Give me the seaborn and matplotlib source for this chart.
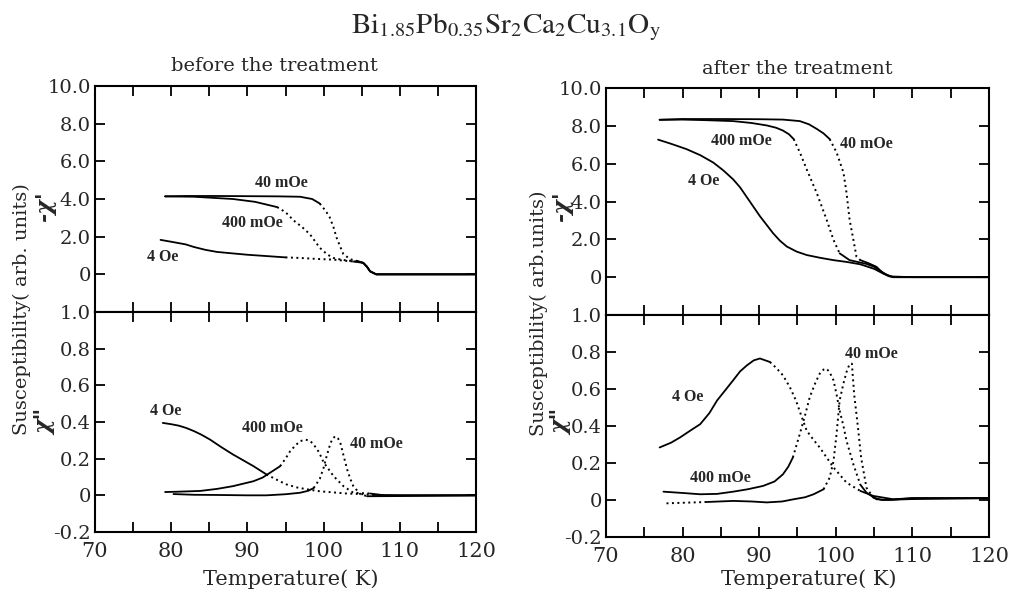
import matplotlib
matplotlib.use("Agg")
import matplotlib.pyplot as plt
from matplotlib.ticker import MultipleLocator
import seaborn as sns
import numpy as np

# ---------------- data ----------------
# before the treatment, -chi'
T40_b1 = [79.2, 82, 86, 90, 94, 96.9, 98.5, 99.5, 100.3, 100.8, 101.3, 101.7, 102.2, 102.6, 103.5, 104.5, 105.2, 105.7, 106.1, 106.9, 110, 115, 120]
Y40_b1 = [4.14, 4.16, 4.16, 4.15, 4.14, 4.12, 4.0, 3.76, 3.35, 3.03, 2.5, 1.95, 1.45, 1.07, 0.8, 0.7, 0.61, 0.4, 0.16, 0.0, 0.0, 0.0, 0.0]
T400_b1 = [79.2, 83, 88.1, 91, 93.9, 95, 96.1, 97.2, 98.2, 99.5, 100.5, 101.3, 102.2, 103.1, 104.5, 105.2, 105.7, 106.1, 106.9, 110, 120]
Y400_b1 = [4.14, 4.12, 4.0, 3.85, 3.57, 3.3, 2.85, 2.5, 2.13, 1.41, 1.05, 0.87, 0.79, 0.73, 0.68, 0.61, 0.4, 0.16, 0.0, 0.0, 0.0]
T4_b1 = [78.6, 80, 81.9, 83, 84.5, 86, 88.1, 90, 92.5, 95, 96.9, 99, 101.3, 103.9, 105.2, 105.7, 106.1, 106.9, 110, 120]
Y4_b1 = [1.83, 1.73, 1.59, 1.45, 1.3, 1.19, 1.11, 1.04, 0.97, 0.9, 0.87, 0.82, 0.78, 0.68, 0.61, 0.4, 0.16, 0.0, 0.0, 0.0]

# before the treatment, chi''
T4_b2 = [78.9, 80, 81, 82, 83, 84, 85.1, 86.5, 88.1, 89.5, 90.8, 92.5, 94, 95.1, 96.5, 97.8, 99.5, 101.3, 103, 104.8, 106.6, 110, 120]
Y4_b2 = [0.395, 0.388, 0.38, 0.367, 0.35, 0.33, 0.304, 0.265, 0.223, 0.19, 0.159, 0.114, 0.082, 0.06, 0.043, 0.033, 0.022, 0.016, 0.01, 0.007, 0.002, 0.0, 0.0]
T400_b2 = [79.2, 81, 83.8, 86, 88.1, 90.8, 92, 93, 94.3, 95, 95.6, 96.3, 96.9, 97.6, 98.2, 98.7, 99.4, 100, 100.7, 101.3, 102.6, 103.9, 105, 106.1, 108, 120]
Y400_b2 = [0.018, 0.02, 0.024, 0.035, 0.05, 0.077, 0.097, 0.124, 0.159, 0.2, 0.24, 0.272, 0.295, 0.304, 0.298, 0.277, 0.235, 0.18, 0.14, 0.105, 0.05, 0.014, 0.012, 0.01, 0.0, 0.0]
T40_b2 = [80.3, 83, 86, 90, 92.5, 95, 96.9, 98, 98.7, 99.5, 100, 100.4, 100.8, 101.1, 101.5, 101.9, 102.2, 102.6, 103.1, 103.5, 103.9, 104.8, 105.7, 110, 120]
Y40_b2 = [0.007, 0.003, 0.002, 0.0, 0.0, 0.006, 0.014, 0.025, 0.04, 0.09, 0.15, 0.214, 0.27, 0.304, 0.322, 0.31, 0.286, 0.22, 0.14, 0.09, 0.05, 0.007, -0.005, -0.004, 0.0]

# after the treatment, -chi'
T40_a1 = [77.0, 80, 85, 90, 93.1, 95.3, 96.5, 97.5, 98.4, 99.2, 100.1, 101.0, 101.4, 101.8, 102.3, 102.7, 103.2, 104.2, 105.3, 106.2, 107.5, 110, 120]
Y40_a1 = [8.32, 8.36, 8.36, 8.35, 8.33, 8.25, 8.08, 7.84, 7.6, 7.3, 6.6, 5.53, 4.46, 3.04, 1.97, 1.08, 0.9, 0.75, 0.55, 0.2, 0.0, 0.0, 0.0]
T400_a1 = [77.0, 80, 83, 86.6, 89, 91.0, 92.2, 93.1, 93.9, 94.5, 95.3, 96.2, 97.5, 98.8, 99.7, 100.5, 101.8, 104.0, 105.0, 105.7, 107.0, 110, 120]
Y400_a1 = [8.32, 8.33, 8.3, 8.25, 8.15, 8.02, 7.9, 7.75, 7.55, 7.3, 6.6, 5.7, 4.46, 3.04, 1.97, 1.26, 0.9, 0.7, 0.55, 0.36, 0.04, 0.0, 0.0]
T4_a1 = [76.8, 78.5, 80.5, 82.3, 84.0, 85.3, 86.6, 87.5, 88.3, 89.2, 90.1, 91.0, 91.8, 92.7, 93.6, 94.9, 96.2, 98, 99.7, 101.5, 103.2, 105.0, 105.9, 106.7, 107.5, 110, 120]
Y4_a1 = [7.27, 7.05, 6.77, 6.45, 6.06, 5.65, 5.17, 4.75, 4.28, 3.75, 3.22, 2.75, 2.33, 1.93, 1.62, 1.35, 1.17, 1.02, 0.9, 0.8, 0.68, 0.44, 0.25, 0.09, 0.0, 0.0, 0.0]

# after the treatment, chi''
T4_a2 = [77.0, 78.5, 79.7, 81, 82.3, 83.5, 84.5, 85.6, 86.6, 87.5, 88.4, 89.3, 90.1, 91.4, 92.2, 93.1, 94.0, 94.8, 95.5, 96.2, 97.0, 97.9, 99.7, 101.4, 103.2, 104.9, 107.5, 110, 120]
Y4_a2 = [0.284, 0.31, 0.339, 0.375, 0.41, 0.47, 0.538, 0.595, 0.647, 0.695, 0.728, 0.755, 0.765, 0.746, 0.715, 0.674, 0.61, 0.538, 0.455, 0.375, 0.33, 0.284, 0.176, 0.094, 0.049, 0.022, 0.004, 0.01, 0.01]
T400_a2 = [77.5, 80, 82.3, 84.5, 86.6, 88.5, 90.5, 92, 93.1, 93.8, 94.4, 95.3, 96.0, 96.6, 97.3, 97.9, 98.4, 98.8, 99.2, 99.7, 100.1, 100.5, 101.0, 101.4, 102.3, 103.2, 104.0, 105.3, 107, 110, 120]
Y400_a2 = [0.045, 0.038, 0.031, 0.033, 0.045, 0.058, 0.076, 0.1, 0.139, 0.18, 0.23, 0.357, 0.46, 0.556, 0.63, 0.683, 0.705, 0.71, 0.69, 0.647, 0.57, 0.484, 0.4, 0.32, 0.192, 0.083, 0.04, 0.004, 0.0, 0.01, 0.01]
T40_a2 = [77.9, 80, 83, 86.6, 89, 91.0, 93, 94.5, 96, 97.1, 98.4, 99.2, 99.7, 100.1, 100.5, 101.0, 101.4, 101.8, 102.1, 102.4, 102.9, 103.3, 104.0, 104.9, 106, 110, 120]
Y40_a2 = [-0.018, -0.015, -0.011, -0.005, -0.008, -0.013, -0.008, 0.004, 0.015, 0.031, 0.058, 0.121, 0.21, 0.357, 0.538, 0.63, 0.692, 0.735, 0.737, 0.57, 0.39, 0.23, 0.067, 0.013, 0.0, 0.005, 0.01]

x_ticks = [70, 80, 90, 100, 110, 120]
y_ticks_real = [0, 2, 4, 6, 8, 10]
y_labels_real = ["0", "2.0", "4.0", "6.0", "8.0", "10.0"]
y_ticks_imag = [-0.2, 0, 0.2, 0.4, 0.6, 0.8, 1.0]
y_labels_imag = ["-0.2", "0", "0.2", "0.4", "0.6", "0.8", "1.0"]
field_labels = ["4 Oe", "400 mOe", "40 mOe"]

# ---------------- style ----------------
sns.set_style("ticks")
plt.rcParams["font.family"] = ["DejaVu Serif"]
plt.rcParams["mathtext.fontset"] = "stix"

W, H = 1012, 590
fig = plt.figure(figsize=(W / 100, H / 100), dpi=100)


def box(l, r, t, b):
    return [l / W, 1 - b / H, (r - l) / W, (b - t) / H]


DOT = (0, (1, 1.8))


def draw(ax, T, Y, dotted):
    T = np.asarray(T, float)
    Y = np.asarray(Y, float)
    mids = (T[:-1] + T[1:]) / 2
    isdot = np.array([any(a <= m <= b for a, b in dotted) for m in mids])
    i = 0
    n = len(mids)
    while i < n:
        j = i
        while j + 1 < n and isdot[j + 1] == isdot[i]:
            j += 1
        sns.lineplot(x=T[i:j + 2], y=Y[i:j + 2], ax=ax, color="black",
                     linewidth=1.3 if not isdot[i] else 1.4,
                     linestyle=DOT if isdot[i] else "-",
                     sort=False, estimator=None, legend=False)
        i = j + 1


def style(ax, kind):
    ax.set_xlim(70, 120)
    ax.xaxis.set_major_locator(MultipleLocator(10))
    ax.xaxis.set_minor_locator(MultipleLocator(5))
    if kind == "real":
        ax.set_ylim(-2, 10)
        ax.set_yticks(y_ticks_real)
        ax.set_yticklabels(y_labels_real)
        ax.tick_params(axis="x", labelbottom=False)
    else:
        ax.set_ylim(-0.2, 1.0)
        ax.set_yticks(y_ticks_imag)
        ax.set_yticklabels(y_labels_imag)
        ax.set_xticks(x_ticks)
        ax.set_xticklabels([str(v) for v in x_ticks])
    ax.tick_params(which="both", direction="in", top=True, right=True,
                   length=7, width=1.3, color="black")
    ax.tick_params(axis="y", labelsize=14, pad=3)
    ax.tick_params(axis="x", labelsize=15, pad=7)
    for s in ax.spines.values():
        s.set_linewidth(1.5)
        s.set_color("black")
    ax.set_xlabel("")
    ax.set_ylabel("")


def lab(ax, x, y, s):
    ax.text(x, y, s, ha="center", va="center", fontsize=11.5,
            fontweight="bold", family=["Liberation Serif", "DejaVu Serif"])


# ---------------- left: before ----------------
axL1 = fig.add_axes(box(95, 476, 86, 312))
axL2 = fig.add_axes(box(95, 476, 312, 532))
draw(axL1, T4_b1, Y4_b1, [(95, 104.2)])
draw(axL1, T400_b1, Y400_b1, [(93.9, 104.2)])
draw(axL1, T40_b1, Y40_b1, [(99.8, 104.2)])
draw(axL2, T4_b2, Y4_b2, [(93, 107.5)])
draw(axL2, T400_b2, Y400_b2, [(93.8, 107)])
draw(axL2, T40_b2, Y40_b2, [(99, 105.5)])
style(axL1, "real")
style(axL2, "imag")
lab(axL1, 78.9, 0.9, field_labels[0])
lab(axL1, 90.7, 2.7, field_labels[1])
lab(axL1, 94.5, 4.84, field_labels[2])
lab(axL2, 79.3, 0.458, field_labels[0])
lab(axL2, 93.3, 0.37, field_labels[1])
lab(axL2, 106.9, 0.282, field_labels[2])

# ---------------- right: after ----------------
axR1 = fig.add_axes(box(606, 989, 88, 315))
axR2 = fig.add_axes(box(606, 989, 315, 537))
draw(axR1, T4_a1, Y4_a1, [])
draw(axR1, T400_a1, Y400_a1, [(94.5, 101)])
draw(axR1, T40_a1, Y40_a1, [(99, 103.3)])
draw(axR2, T4_a2, Y4_a2, [(91.5, 103)])
draw(axR2, T400_a2, Y400_a2, [(94.5, 103.5)])
draw(axR2, T40_a2, Y40_a2, [(77.9, 83), (98.8, 104.5)])
style(axR1, "real")
style(axR2, "imag")
lab(axR1, 82.7, 5.08, field_labels[0])
lab(axR1, 87.7, 7.2, field_labels[1])
lab(axR1, 104.0, 7.04, field_labels[2])
lab(axR2, 80.7, 0.556, field_labels[0])
lab(axR2, 84.9, 0.121, field_labels[1])
lab(axR2, 104.7, 0.788, field_labels[2])

# ---------------- texts ----------------
fig.text(506 / W, 1 - 27 / H, r"$\mathrm{Bi_{1.85}Pb_{0.35}Sr_{2}Ca_{2}Cu_{3.1}O_{y}}$",
         ha="center", va="center", fontsize=21)
fig.text(274 / W, 1 - 71 / H, "before the treatment", ha="center", va="baseline", fontsize=14)
fig.text(797.5 / W, 1 - 74 / H, "after the treatment", ha="center", va="baseline", fontsize=14)

fig.text(22 / W, 1 - 309 / H, "Susceptibility( arb. units)", rotation=90,
         ha="center", va="center", fontsize=14)
fig.text(539 / W, 1 - 313 / H, "Susceptibility( arb.units)", rotation=90,
         ha="center", va="center", fontsize=14)

chi_kw = dict(rotation=90, ha="center", va="center", fontsize=16,
              fontweight="bold", fontstyle="italic")
fig.text(45 / W, 1 - 207 / H, "-\u03c7'", **chi_kw)
fig.text(45 / W, 1 - 422 / H, "\u03c7\"", **chi_kw)
fig.text(562 / W, 1 - 207 / H, "-\u03c7'", **chi_kw)
fig.text(561 / W, 1 - 422 / H, "\u03c7\"", **chi_kw)

fig.text(291 / W, 1 - 579 / H, "Temperature( K)", ha="center", va="center", fontsize=15)
fig.text(809 / W, 1 - 579 / H, "Temperature( K)", ha="center", va="center", fontsize=15)

fig.savefig("out.png", dpi=100)
